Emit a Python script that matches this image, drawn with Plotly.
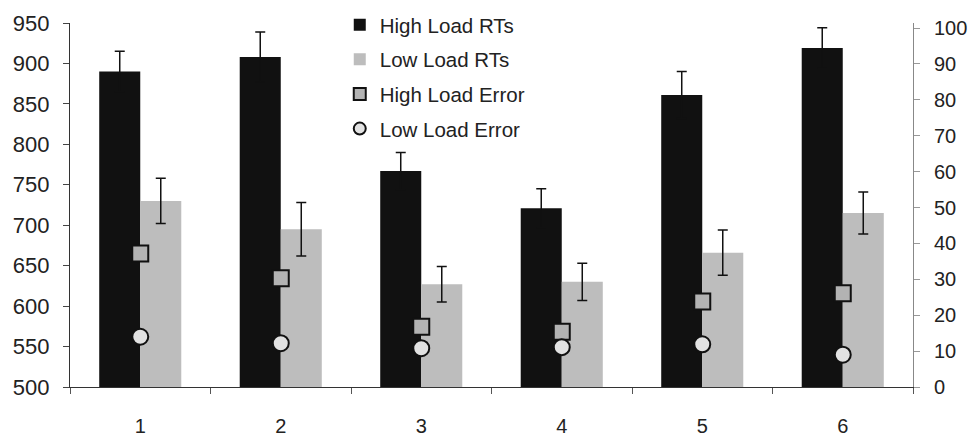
import plotly.graph_objects as go

categories = ["1", "2", "3", "4", "5", "6"]
high_rt = [890, 908, 767, 721, 861, 919]
high_rt_err = [25, 31, 23, 24, 29, 25]
low_rt = [730, 695, 627, 630, 666, 715]
low_rt_err = [28, 33, 22, 23, 28, 26]
high_err = [37.2, 30.3, 16.8, 15.4, 23.8, 26.1]
low_err = [14.0, 12.2, 10.8, 11.1, 11.9, 9.0]

FONT = "Liberation Sans, Arial, sans-serif"
TXT = "#222222"

fig = go.Figure()
fig.add_trace(go.Bar(
    x=categories, y=high_rt, name="High Load RTs", legendgroup="a",
    marker=dict(color="#111111", line=dict(width=0)),
    error_y=dict(type="data", array=high_rt_err, color="#111111", thickness=1.5, width=5),
))
fig.add_trace(go.Bar(
    x=categories, y=low_rt, name="Low Load RTs", legendgroup="b",
    marker=dict(color="#bdbdbd", line=dict(width=0)),
    error_y=dict(type="data", array=low_rt_err, color="#111111", thickness=1.5, width=5),
))
fig.add_trace(go.Scatter(
    x=categories, y=high_err, name="High Load Error", legendgroup="c", yaxis="y2",
    mode="markers",
    marker=dict(symbol="square", size=16, color="#b3b3b3", line=dict(color="#111111", width=2)),
))
fig.add_trace(go.Scatter(
    x=categories, y=low_err, name="Low Load Error", legendgroup="d", yaxis="y2",
    mode="markers",
    marker=dict(symbol="circle", size=16, color="#e2e2e2", line=dict(color="#111111", width=2)),
))

fig.update_layout(
    width=972, height=438,
    margin=dict(l=70, r=59, t=23, b=51, autoexpand=False),
    paper_bgcolor="white", plot_bgcolor="white",
    font=dict(family=FONT, color=TXT, size=20),
    barmode="group", bargap=0.416, bargroupgap=0,
    showlegend=True,
    legend=dict(
        x=0.32, y=1.05, xanchor="left", yanchor="top",
        font=dict(family=FONT, size=20.5, color=TXT),
        bgcolor="rgba(0,0,0,0)", traceorder="grouped", tracegroupgap=5,
        itemsizing="constant",
    ),
    xaxis=dict(
        type="category", range=[-0.5, 5.5], automargin=False,
        showline=True, linecolor="#333333", linewidth=1.2,
        ticks="outside", tickson="boundaries", ticklen=6, tickcolor="#555555",
        ticklabelstandoff=21,
        tickfont=dict(size=20, color=TXT), showgrid=False, zeroline=False,
    ),
    yaxis=dict(
        range=[500, 950], tickvals=list(range(500, 951, 50)), automargin=False,
        showline=True, linecolor="#333333", linewidth=1.2,
        ticks="outside", ticklen=6, tickcolor="#444444",
        ticklabelstandoff=9,
        tickfont=dict(size=22, color=TXT), showgrid=False, zeroline=False,
    ),
    yaxis2=dict(
        overlaying="y", side="right", range=[0, 101.4], automargin=False,
        tickvals=list(range(0, 101, 10)),
        showline=True, linecolor="#888888", linewidth=1,
        ticks="outside", ticklen=6, tickcolor="#999999",
        ticklabelstandoff=10,
        tickfont=dict(size=20, color=TXT), showgrid=False, zeroline=False,
    ),
)

fig.write_html("out.html")
